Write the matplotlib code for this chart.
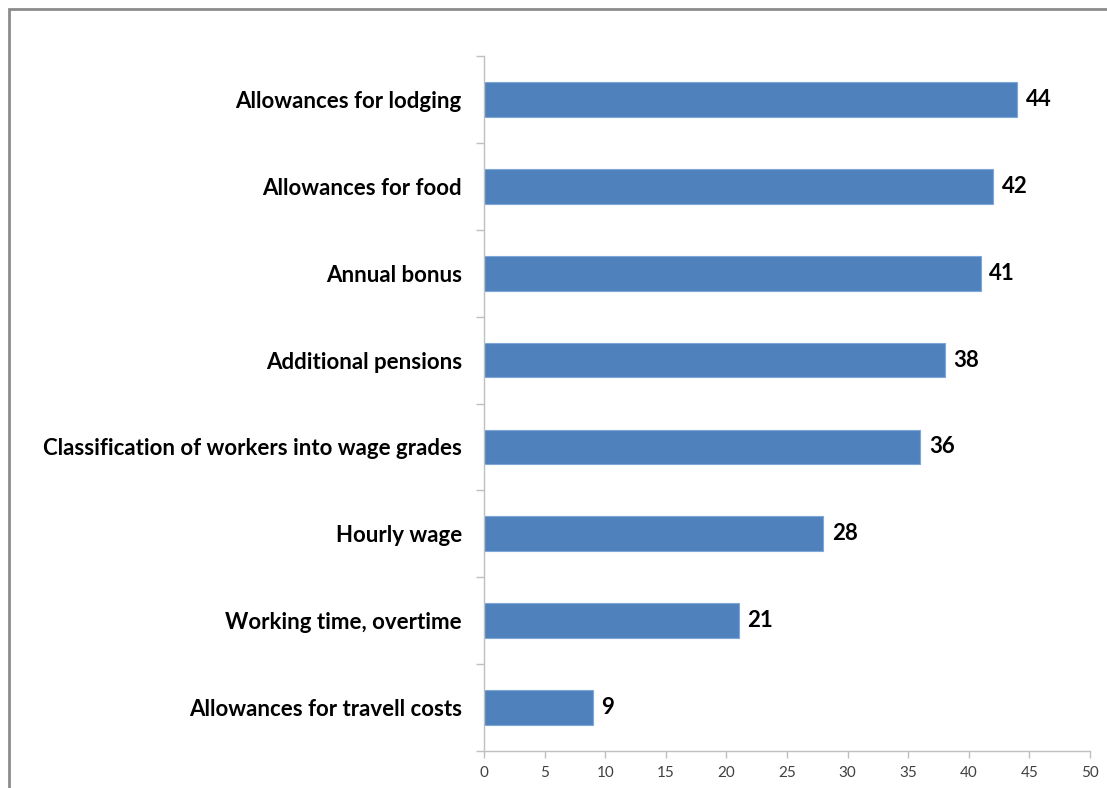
import matplotlib
matplotlib.use("Agg")
import matplotlib.pyplot as plt
from matplotlib.patches import Rectangle

categories = [
    "Allowances for travell costs",
    "Working time, overtime",
    "Hourly wage",
    "Classification of workers into wage grades",
    "Additional pensions",
    "Annual bonus",
    "Allowances for food",
    "Allowances for lodging",
]
values = [9, 21, 28, 36, 38, 41, 42, 44]
xticks = [0, 5, 10, 15, 20, 25, 30, 35, 40, 45, 50]

plt.rcParams['font.family'] = ['Lato', 'DejaVu Sans']

fig = plt.figure(figsize=(11.07, 7.88), dpi=100)
ax = fig.add_axes([484 / 1107, 1 - 751 / 788, 606 / 1107, 695 / 788])

pos = list(range(len(categories)))
bars = ax.barh(pos, values, height=0.4, color="#4F81BD", edgecolor="#7EA6D6", linewidth=0.8)

for p, v in zip(pos, values):
    ax.text(v + 0.7, p, str(v), va="center", ha="left", fontsize=16, fontweight="bold")

ax.set_xlim(0, 50)
ax.set_ylim(-0.5, len(categories) - 0.5)
ax.set_xticks(xticks)
ax.set_xticklabels([str(t) for t in xticks], fontsize=11, color="#404040")

# category labels centred on bars, ticks on the boundaries
ax.set_yticks(pos)
ax.set_yticklabels(categories, fontsize=16, fontweight="bold")
ax.tick_params(axis="y", length=0, pad=16)
ax.set_yticks([p - 0.5 for p in range(len(categories) + 1)], minor=True)
ax.tick_params(axis="y", which="minor", length=6, color="#BFBFBF", width=1)
ax.tick_params(axis="x", length=5, color="#BFBFBF", width=1, pad=6)

for s in ["top", "right"]:
    ax.spines[s].set_visible(False)
for s in ["left", "bottom"]:
    ax.spines[s].set_color("#BFBFBF")
    ax.spines[s].set_linewidth(1)

# outer frame of the chart, cut at right and bottom
fig.patches.append(Rectangle((9 / 1107, -0.2), 1.2, 1 - 9 / 788 + 0.2,
                             transform=fig.transFigure, fill=False,
                             edgecolor="#8C8C8C", linewidth=2))

fig.savefig("out.png", dpi=100)
